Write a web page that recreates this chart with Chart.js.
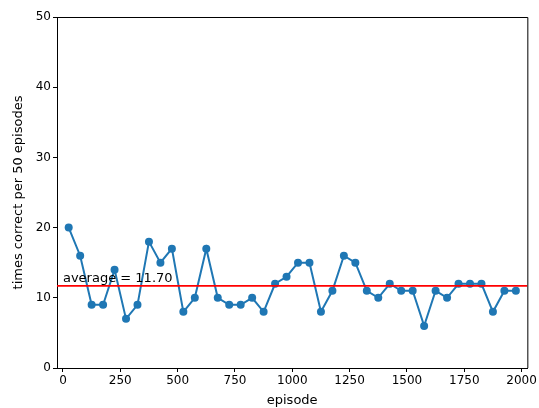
<!DOCTYPE html>
<html>
<head>
<meta charset="utf-8">
<script src="https://cdn.jsdelivr.net/npm/chart.js@4.4.0/dist/chart.umd.min.js"></script>
<style>
  html, body { margin: 0; padding: 0; background: #fff; }
  canvas { display: block; }
</style>
</head>
<body>
<canvas id="chart" width="539" height="408"></canvas>
<script>
const episodes = [
  25, 75, 125, 175, 225, 275, 325, 375, 425, 475,
  525, 575, 625, 675, 725, 775, 825, 875, 925, 975,
  1025, 1075, 1125, 1175, 1225, 1275, 1325, 1375, 1425, 1475,
  1525, 1575, 1625, 1675, 1725, 1775, 1825, 1875, 1925, 1975
];
const timesCorrect = [
  20, 16, 9, 9, 14, 7, 9, 18, 15, 17,
  8, 10, 17, 10, 9, 9, 10, 8, 12, 13,
  15, 15, 8, 11, 16, 15, 11, 10, 12, 11,
  11, 6, 11, 10, 12, 12, 12, 8, 11, 11
];
const average = 11.70;
const xTicks = [0, 250, 500, 750, 1000, 1250, 1500, 1750, 2000];
const yTicks = [0, 10, 20, 30, 40, 50];

const X_MIN = -26;
const X_MAX = 2025;
const FONT = "'DejaVu Sans', sans-serif";

document.addEventListener("DOMContentLoaded", () => {
  drawChart();
});

// top and right spines + the "average = ..." label
const framePlugin = {
  id: "frame",
  afterDatasetsDraw(chart) {
    const { ctx, chartArea, scales } = chart;
    ctx.save();
    ctx.strokeStyle = "#000";
    ctx.lineWidth = 1;
    ctx.beginPath();
    ctx.moveTo(chartArea.left, chartArea.top + 0.5);
    ctx.lineTo(chartArea.right + 0.5, chartArea.top + 0.5);
    ctx.lineTo(chartArea.right + 0.5, chartArea.bottom);
    ctx.stroke();

    ctx.fillStyle = "#000";
    ctx.font = "13px " + FONT;
    ctx.textAlign = "left";
    ctx.textBaseline = "alphabetic";
    ctx.fillText(
      "average = " + average.toFixed(2),
      scales.x.getPixelForValue(0),
      scales.y.getPixelForValue(average + 0.5)
    );
    ctx.restore();
  },
};

function axisOptions(min, max, ticks, title, size, titlePadding) {
  return {
    type: "linear",
    min: min,
    max: max,
    afterBuildTicks: (scale) => {
      scale.ticks = ticks.map((v) => ({ value: v }));
    },
    afterFit: (scale) => {
      if (scale.isHorizontal()) scale.height = size;
      else scale.width = size;
    },
    grid: {
      drawOnChartArea: false,
      drawTicks: true,
      tickLength: 4,
      color: "#000",
    },
    border: { color: "#000", width: 1 },
    ticks: {
      color: "#000",
      font: { family: FONT, size: 12 },
      padding: 2,
      maxRotation: 0,
      callback: (value) => String(value),
    },
    title: {
      display: true,
      text: title,
      color: "#000",
      font: { family: FONT, size: 13 },
      padding: titlePadding,
    },
  };
}

function drawChart() {
  const points = episodes.map((ep, i) => ({ x: ep, y: timesCorrect[i] }));

  new Chart(document.getElementById("chart"), {
    type: "line",
    data: {
      datasets: [
        {
          label: "average",
          data: [
            { x: X_MIN, y: average },
            { x: X_MAX, y: average },
          ],
          borderColor: "#ff0000",
          borderWidth: 1.8,
          pointRadius: 0,
        },
        {
          label: "times correct",
          data: points,
          borderColor: "#1f77b4",
          backgroundColor: "#1f77b4",
          borderWidth: 2,
          pointRadius: 4,
          pointBorderWidth: 0,
          tension: 0,
        },
      ],
    },
    options: {
      responsive: false,
      devicePixelRatio: 1,
      animation: false,
      layout: { padding: { top: 17, right: 11, left: 0, bottom: 0 } },
      plugins: {
        legend: { display: false },
        tooltip: { enabled: false },
      },
      scales: {
        x: axisOptions(X_MIN, X_MAX, xTicks, "episode", 40, { top: 0, bottom: 0 }),
        y: axisOptions(0, 50, yTicks, "times correct per 50 episodes", 57, { top: 11, bottom: 0 }),
      },
    },
    plugins: [framePlugin],
  });
}
</script>
</body>
</html>
